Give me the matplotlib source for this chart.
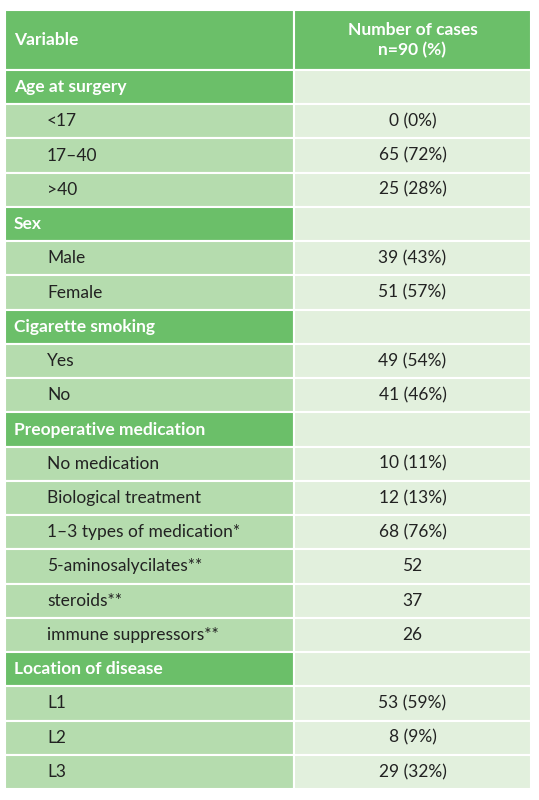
import matplotlib
matplotlib.use("Agg")
import matplotlib.pyplot as plt
from matplotlib.patches import Rectangle

header = ["Variable", "Number of cases\nn=90 (%)"]
rows = [
    ("Age at surgery", "", True),
    ("<17", "0 (0%)", False),
    ("17–40", "65 (72%)", False),
    (">40", "25 (28%)", False),
    ("Sex", "", True),
    ("Male", "39 (43%)", False),
    ("Female", "51 (57%)", False),
    ("Cigarette smoking", "", True),
    ("Yes", "49 (54%)", False),
    ("No", "41 (46%)", False),
    ("Preoperative medication", "", True),
    ("No medication", "10 (11%)", False),
    ("Biological treatment", "12 (13%)", False),
    ("1–3 types of medication*", "68 (76%)", False),
    ("5-aminosalycilates**", "52", False),
    ("steroids**", "37", False),
    ("immune suppressors**", "26", False),
    ("Location of disease", "", True),
    ("L1", "53 (59%)", False),
    ("L2", "8 (9%)", False),
    ("L3", "29 (32%)", False),
]

W, H = 539, 800
fig = plt.figure(figsize=(W/100, H/100), dpi=100)
ax = fig.add_axes([0, 0, 1, 1])
ax.set_xlim(0, W); ax.set_ylim(H, 0); ax.axis("off")

dark = "#6bbf69"; mid = "#b5dcae"; light = "#e2f0dd"
x0, xs, x1 = 5, 294, 531
top, hb, bottom = 10, 70, 789
rh = (bottom - hb) / len(rows)
lw = 1.5
fam = "Lato"

def cell(x, y, w, h, c):
    ax.add_patch(Rectangle((x, y), w, h, facecolor=c, edgecolor="white", linewidth=lw))

fs = 12.5
cell(x0, top, xs - x0, hb - top, dark)
cell(xs, top, x1 - xs, hb - top, dark)
ax.text(x0 + 9, (top + hb) / 2, header[0], color="white", fontsize=fs, weight="bold", va="center", family=fam)
ax.text((xs + x1) / 2, (top + hb) / 2, header[1], color="white", fontsize=fs, weight="bold", va="center", ha="center", family=fam, linespacing=1.25)

for i, (lab, val, sec) in enumerate(rows):
    y = hb + i * rh
    cell(x0, y, xs - x0, rh, dark if sec else mid)
    cell(xs, y, x1 - xs, rh, light)
    if sec:
        ax.text(x0 + 9, y + rh / 2, lab, color="white", fontsize=fs, weight="bold", va="center", family=fam)
    else:
        ax.text(x0 + 42, y + rh / 2, lab, color="#222222", fontsize=fs, va="center", family=fam)
        ax.text((xs + x1) / 2, y + rh / 2, val, color="#222222", fontsize=fs, va="center", ha="center", family=fam)

fig.savefig("out.png", dpi=100, facecolor="white")
